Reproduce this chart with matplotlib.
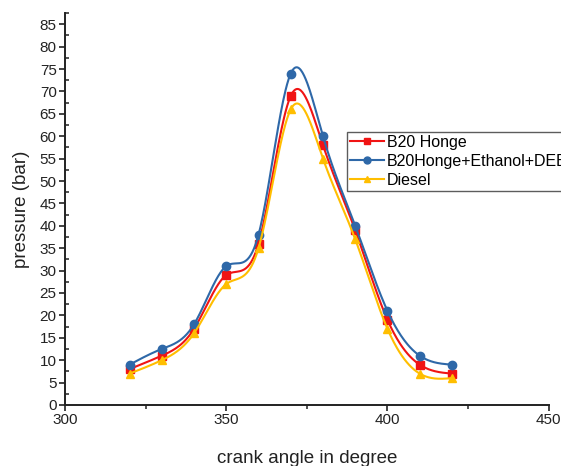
import numpy as np
import matplotlib
matplotlib.use("Agg")
import matplotlib.pyplot as plt
from matplotlib.ticker import MultipleLocator

plt.rcParams["font.family"] = ["Liberation Sans", "DejaVu Sans"]

crank_angle = [320, 330, 340, 350, 360, 370, 380, 390, 400, 410, 420]
b20_honge = [8, 11, 17, 29, 36, 69, 58, 39, 19, 9, 7]
b20_blend = [9, 12.5, 18, 31, 38, 74, 60, 40, 21, 11, 9]
diesel = [7, 10, 16, 27, 35, 66, 55, 37, 17, 7, 6]

labels = ["B20 Honge", "B20Honge+Ethanol+DEE", "Diesel"]
colors = ["#f01414", "#2e68a8", "#ffbe00"]
markers = ["s", "o", "^"]


def natural_spline(x, y, n=400):
    x = np.asarray(x, float)
    y = np.asarray(y, float)
    m = len(x)
    h = np.diff(x)
    A = np.zeros((m, m))
    b = np.zeros(m)
    A[0, 0] = 1
    A[-1, -1] = 1
    for i in range(1, m - 1):
        A[i, i - 1] = h[i - 1]
        A[i, i] = 2 * (h[i - 1] + h[i])
        A[i, i + 1] = h[i]
        b[i] = 3 * ((y[i + 1] - y[i]) / h[i] - (y[i] - y[i - 1]) / h[i - 1])
    c = np.linalg.solve(A, b)
    xs = np.linspace(x[0], x[-1], n)
    idx = np.clip(np.searchsorted(x, xs) - 1, 0, m - 2)
    dx = xs - x[idx]
    bb = (y[idx + 1] - y[idx]) / h[idx] - h[idx] * (2 * c[idx] + c[idx + 1]) / 3
    d = (c[idx + 1] - c[idx]) / (3 * h[idx])
    ys = y[idx] + bb * dx + c[idx] * dx ** 2 + d * dx ** 3
    return xs, ys


fig = plt.figure(figsize=(5.61, 4.66), dpi=100)
ax = fig.add_axes([0.116, 0.131, 0.862, 0.841])

handles = []
for ys, lab, col, mk in zip([b20_honge, b20_blend, diesel], labels, colors, markers):
    sx, sy = natural_spline(crank_angle, ys)
    ax.plot(sx, sy, color=col, lw=1.5)
    ax.plot(crank_angle, ys, linestyle="none", marker=mk, color=col, ms=6)
    h, = ax.plot([], [], color=col, lw=1.5, marker=mk, ms=5)
    handles.append(h)

ax.set_xlim(300, 450)
ax.set_ylim(0, 87.5)
ax.xaxis.set_major_locator(MultipleLocator(50))
ax.xaxis.set_minor_locator(MultipleLocator(25))
ax.yaxis.set_major_locator(MultipleLocator(5))
ax.yaxis.set_minor_locator(MultipleLocator(2.5))
for s in ["top", "right"]:
    ax.spines[s].set_visible(False)
for s in ["left", "bottom"]:
    ax.spines[s].set_linewidth(1.4)
    ax.spines[s].set_color("#222222")
ax.tick_params(which="major", direction="out", length=4, width=1.2, labelsize=11,
               colors="#222222", pad=2)
ax.tick_params(axis="x", which="minor", direction="out", length=3, width=1.1, colors="#222222")
ax.tick_params(axis="y", which="minor", direction="in", length=3, width=1.1, colors="#222222")

ax.set_xlabel("crank angle in degree", fontsize=13.5, color="#222222", labelpad=16)
ax.set_ylabel("pressure (bar)", fontsize=13.5, color="#222222", labelpad=7)

leg = fig.legend(handles, labels, loc="upper left", bbox_to_anchor=(0.619, 0.717),
                 fontsize=11.5, frameon=True, fancybox=False, handlelength=2.1,
                 borderpad=0.2, labelspacing=0.25, handletextpad=0.2, borderaxespad=0)
leg.get_frame().set_edgecolor("#333333")
leg.get_frame().set_linewidth(1.0)

fig.savefig("out.png", dpi=100)
